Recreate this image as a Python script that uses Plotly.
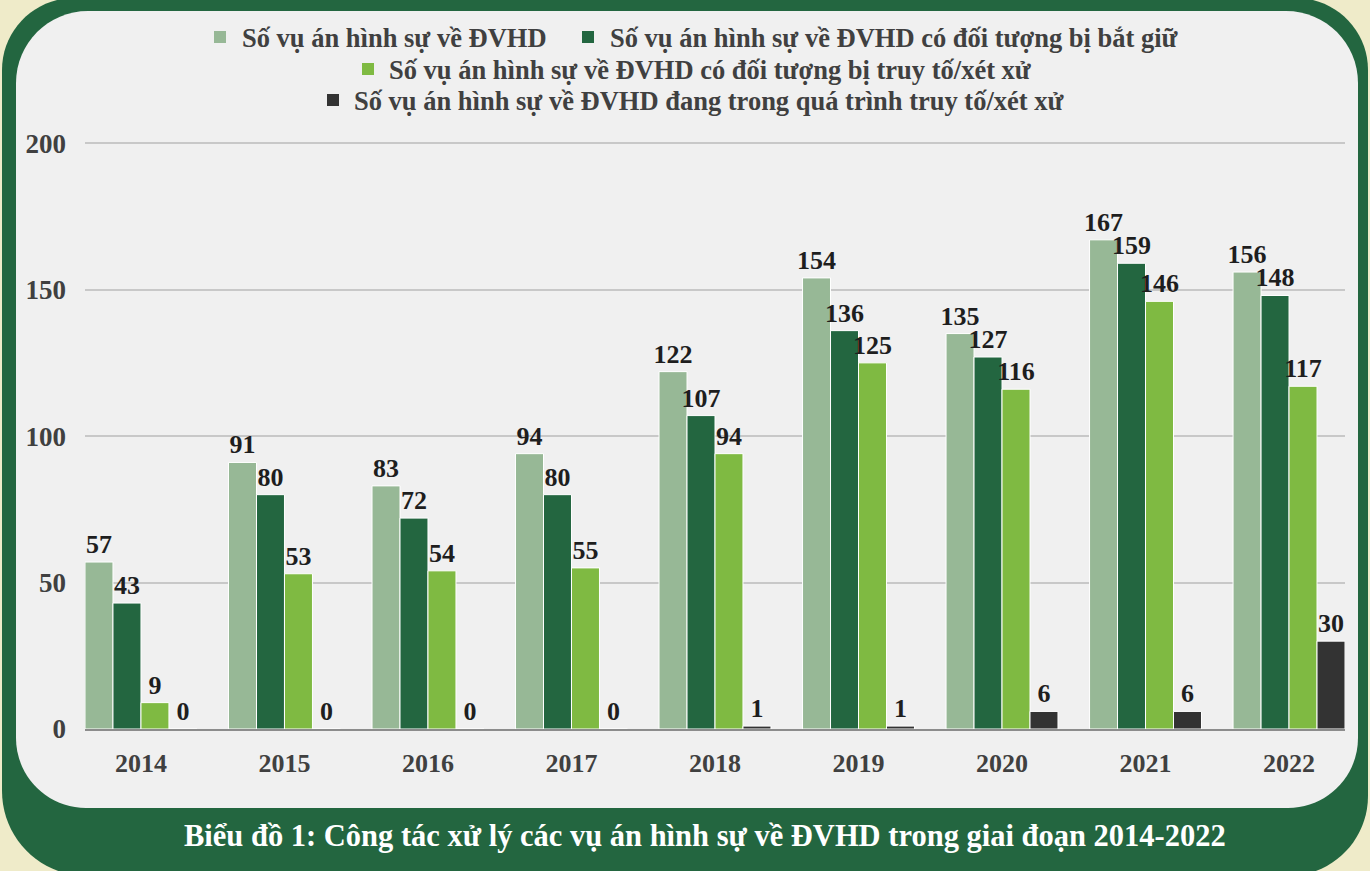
import plotly.graph_objects as go

years = ["2014", "2015", "2016", "2017", "2018", "2019", "2020", "2021", "2022"]
s_total = [57, 91, 83, 94, 122, 154, 135, 167, 156]
s_arrest = [43, 80, 72, 80, 107, 136, 127, 159, 148]
s_prosecuted = [9, 53, 54, 55, 94, 125, 116, 146, 117]
s_pending = [0, 0, 0, 0, 1, 1, 6, 6, 30]

names = [
    "Số vụ án hình sự về ĐVHD",
    "Số vụ án hình sự về ĐVHD có đối tượng bị bắt giữ",
    "Số vụ án hình sự về ĐVHD có đối tượng bị truy tố/xét xử",
    "Số vụ án hình sự về ĐVHD đang trong quá trình truy tố/xét xử",
]
colors = ["#97b896", "#236640", "#7fba42", "#333333"]
caption = "Biểu đồ 1: Công tác xử lý các vụ án hình sự về ĐVHD trong giai đoạn 2014-2022"

W, H = 1370, 871
L, R, T, B = 85, 1345, 142, 729
YMAX = 200.4
FONT = "Liberation Serif, Times New Roman, serif"


def px(x):
    return (x - L) / (R - L)


def py(y):
    return (B - y) / (B - T)


def rrect(x0, y0, x1, y1, rtl, rtr, rbr, rbl):
    k = 0.4477
    pts = []
    pts.append(f"M{px(x0 + rtl)},{py(y0)}")
    pts.append(f"L{px(x1 - rtr)},{py(y0)}")
    pts.append(f"C{px(x1 - rtr * k)},{py(y0)} {px(x1)},{py(y0 + rtr * k)} {px(x1)},{py(y0 + rtr)}")
    pts.append(f"L{px(x1)},{py(y1 - rbr)}")
    pts.append(f"C{px(x1)},{py(y1 - rbr * k)} {px(x1 - rbr * k)},{py(y1)} {px(x1 - rbr)},{py(y1)}")
    pts.append(f"L{px(x0 + rbl)},{py(y1)}")
    pts.append(f"C{px(x0 + rbl * k)},{py(y1)} {px(x0)},{py(y1 - rbl * k)} {px(x0)},{py(y1 - rbl)}")
    pts.append(f"L{px(x0)},{py(y0 + rtl)}")
    pts.append(f"C{px(x0)},{py(y0 + rtl * k)} {px(x0 + rtl * k)},{py(y0)} {px(x0 + rtl)},{py(y0)}")
    pts.append("Z")
    return " ".join(pts)


fig = go.Figure()
for name, vals, col in zip(names, [s_total, s_arrest, s_prosecuted, s_pending], colors):
    fig.add_trace(go.Bar(
        x=years, y=vals, name=name,
        marker=dict(color=col, line=dict(color="#ffffff", width=1)),
        text=[str(v) for v in vals], textposition="outside",
        textfont=dict(family=FONT, size=26, color="#1e1e1e", weight="bold"),
        constraintext="none", cliponaxis=False,
    ))

shapes = [
    dict(type="path", xref="paper", yref="paper", layer="below",
         path=rrect(2, -2, 1368, 876, 72, 72, 80, 85),
         fillcolor="#236640", line=dict(width=0)),
    dict(type="path", xref="paper", yref="paper", layer="below",
         path=rrect(16, 11, 1358, 808, 72, 72, 70, 70),
         fillcolor="#f0f0f0", line=dict(width=0)),
]

annotations = []
legend_items = [
    (214, 38, 240),
    (582, 38, 608),
    (362, 70, 387),
    (327, 101, 352),
]
for (sx, cy, tx), name, col in zip(legend_items, names, colors):
    shapes.append(dict(type="rect", xref="paper", yref="paper", layer="above",
                       x0=px(sx), x1=px(sx + 12), y0=py(cy - 6 - 1), y1=py(cy + 6 - 1),
                       fillcolor=col, line=dict(width=0)))
    annotations.append(dict(
        text=name, xref="paper", yref="paper", x=px(tx), y=py(cy),
        xanchor="left", yanchor="middle", showarrow=False,
        font=dict(family=FONT, size=26.5, color="#404040", weight="bold"),
    ))

annotations.append(dict(
    text=caption, xref="paper", yref="paper", x=px(705), y=py(836),
    xanchor="center", yanchor="middle", showarrow=False,
    font=dict(family=FONT, size=30.5, color="#ffffff", weight="bold"),
))

fig.update_layout(
    width=W, height=H, autosize=False,
    margin=dict(l=L, r=W - R, t=T, b=H - B, pad=0),
    paper_bgcolor="#efebc9", plot_bgcolor="rgba(0,0,0,0)",
    showlegend=False,
    barmode="group", bargap=0.22, bargroupgap=0,
    shapes=shapes, annotations=annotations,
    xaxis=dict(type="category", range=[-0.39, 8.39], showgrid=False,
               showline=True, linecolor="#8c8c8c", linewidth=2, ticks="",
               tickfont=dict(family=FONT, size=26, color="#404040", weight="bold"),
               ticklabelstandoff=10),
    yaxis=dict(range=[0, YMAX], tickvals=[0, 50, 100, 150, 200],
               showgrid=True, gridcolor="#c8c8c8", gridwidth=1.5,
               zeroline=False, showline=False, ticks="",
               tickfont=dict(family=FONT, size=27, color="#404040", weight="bold"),
               ticklabelstandoff=18),
)

fig.write_html("out.html", config={"displayModeBar": False},
               post_script="document.body.style.margin='0';document.body.style.overflow='hidden';")
